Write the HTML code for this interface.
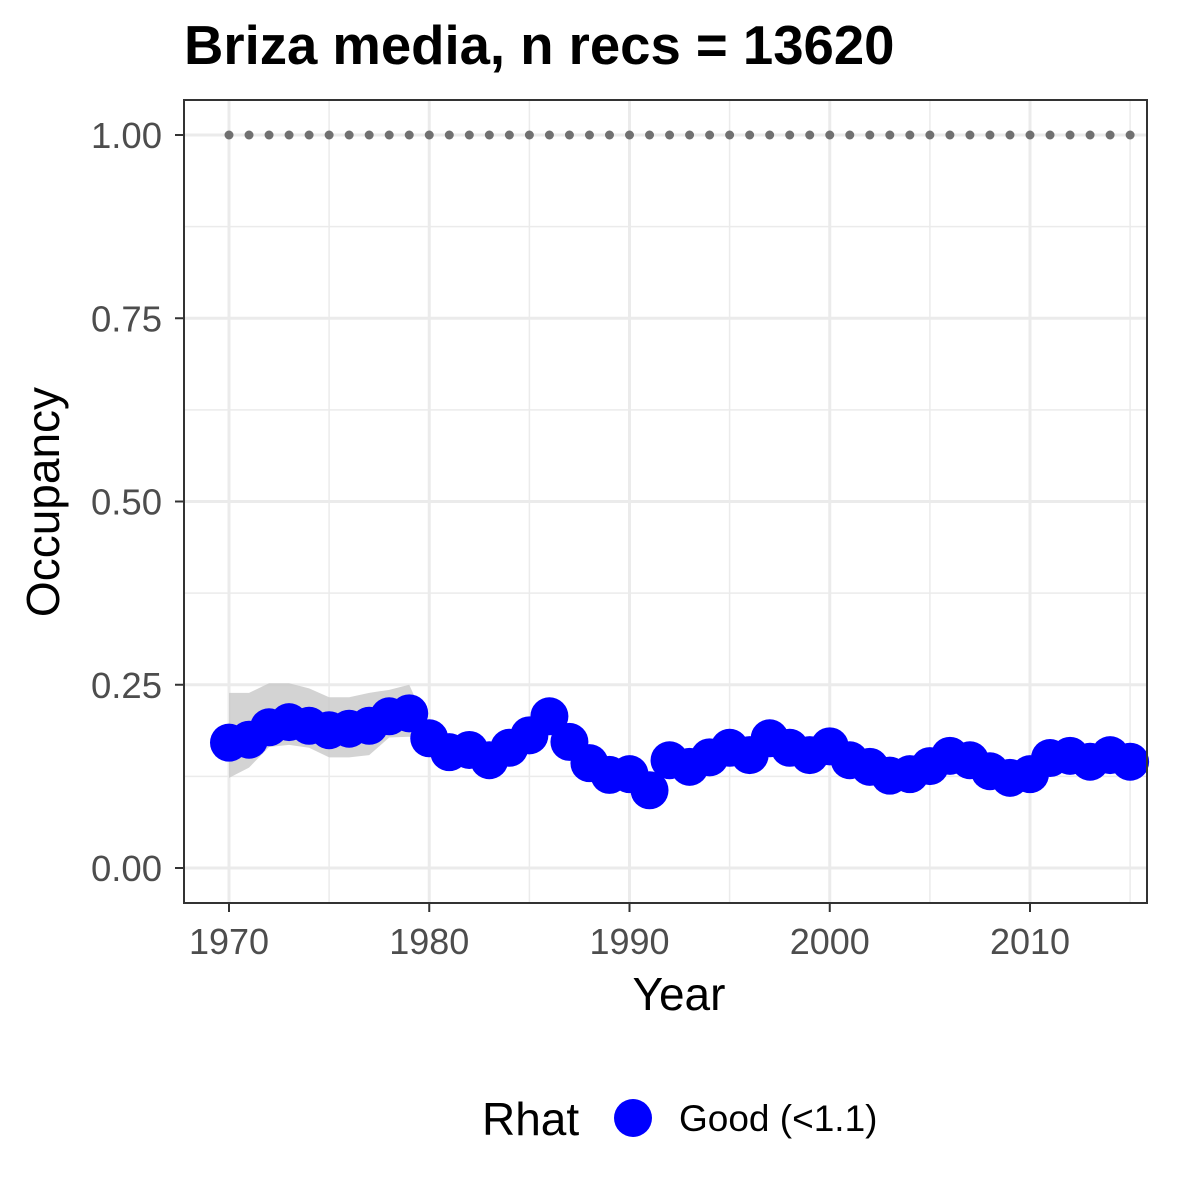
<!DOCTYPE html>
<html><head><meta charset="utf-8"><style>body{margin:0;background:#fff}svg{display:block}text{font-family:"Liberation Sans",Arial,sans-serif}</style></head>
<body>
<svg id="c" width="1200" height="1200" xmlns="http://www.w3.org/2000/svg"></svg>
<script>
const years=[];for(let y=1970;y<=2015;y++)years.push(y);
const occupancy=[.171,.175,.192,.199,.194,.188,.190,.194,.207,.211,.177,.158,.161,.147,.164,.181,.207,.172,.143,.127,.128,.106,.147,.138,.151,.164,.154,.177,.164,.154,.166,.147,.138,.126,.128,.139,.153,.147,.132,.123,.128,.150,.153,.145,.154,.145];
const ribbonYears=[1970,1971,1972,1973,1974,1975,1976,1977,1978,1979,1980,1981];
const ribbonUpper=[.239,.239,.252,.252,.245,.233,.233,.239,.243,.25,.19,.165];
const ribbonLower=[.123,.137,.165,.168,.164,.151,.151,.154,.178,.179,.17,.152];
const xTicks=[1970,1980,1990,2000,2010];
const yTicks=[0,.25,.5,.75,1];
const yTickLabels=["0.00","0.25","0.50","0.75","1.00"];
const NS="http://www.w3.org/2000/svg",svg=document.getElementById('c');
const X=v=>229+(v-1970)*20.025, Y=v=>868-v*733;
function el(t,a,p){const e=document.createElementNS(NS,t);for(const k in a)e.setAttribute(k,a[k]);(p||svg).appendChild(e);return e;}
const L=184,R=1147,T=100,B=903;
const grid=el('g',{});
for(let v=1970;v<=2015;v+=5){const maj=xTicks.includes(v);el('line',{x1:X(v),x2:X(v),y1:T,y2:B,stroke:'#ebebeb','stroke-width':maj?3:1.5},grid);}
for(let v=0;v<=1.0001;v+=.125){const maj=Math.abs(v*4-Math.round(v*4))<1e-6;el('line',{x1:L,x2:R,y1:Y(v),y2:Y(v),stroke:'#ebebeb','stroke-width':maj?3:1.5},grid);}
let d='M'+ribbonYears.map((y,i)=>X(y)+','+Y(ribbonUpper[i])).join('L');
for(let i=ribbonYears.length-1;i>=0;i--)d+='L'+X(ribbonYears[i])+','+Y(ribbonLower[i]);
const rb=el('path',{d:d+'Z',fill:'#c8c8c8','fill-opacity':.8});
years.forEach(y=>{const c=el('circle',{cx:X(y),cy:Y(1),r:4.5,fill:'#707070'});});
years.forEach((y,i)=>{const c=el('circle',{cx:X(y),cy:Y(occupancy[i]),r:19,fill:'#0000ff'});});
const fr=el('rect',{x:L,y:T,width:R-L,height:B-T,fill:'none',stroke:'#333','stroke-width':2});
xTicks.forEach(v=>{el('line',{x1:X(v),x2:X(v),y1:B,y2:B+9,stroke:'#333','stroke-width':2});const t=el('text',{x:X(v),y:954,'text-anchor':'middle','font-size':36,fill:'#4d4d4d'});t.textContent=v;});
yTicks.forEach((v,i)=>{el('line',{x1:L-9,x2:L,y1:Y(v),y2:Y(v),stroke:'#333','stroke-width':2});const t=el('text',{x:162,y:Y(v)+13,'text-anchor':'end','font-size':36.5,fill:'#4d4d4d'});t.textContent=yTickLabels[i];});
</script>
<svg style="position:absolute;left:0;top:0" width="1200" height="1200" xmlns="http://www.w3.org/2000/svg">
<text x="184" y="64" font-size="54.5" font-weight="bold" font-family="Liberation Sans">Briza media, n recs = 13620</text>
<text x="679" y="1010" text-anchor="middle" font-size="46" font-family="Liberation Sans">Year</text>
<text transform="translate(59,502) rotate(-90)" text-anchor="middle" font-size="46" font-family="Liberation Sans">Occupancy</text>
<text x="482" y="1135" font-size="46" font-family="Liberation Sans">Rhat</text>
<circle cx="633" cy="1118" r="19" fill="#0000ff"/>
<text x="679" y="1131" font-size="37" font-family="Liberation Sans">Good (&lt;1.1)</text>
</svg>
</body></html>
